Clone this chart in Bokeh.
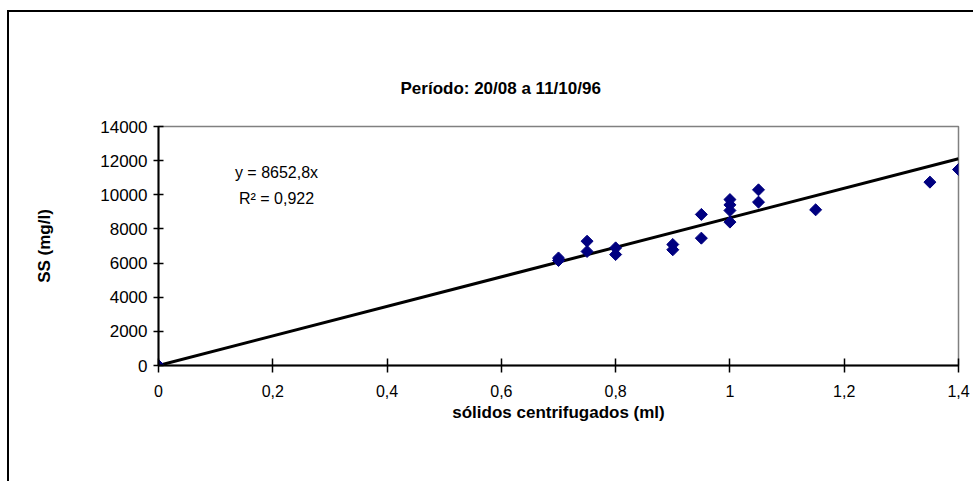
import math
from bokeh.plotting import figure
from bokeh.models import Range1d, FixedTicker, Label
from bokeh.embed import file_html
from bokeh.resources import INLINE

# ---- data ----
solidos = [0, 0.7, 0.7, 0.75, 0.75, 0.8, 0.8, 0.9, 0.9, 0.95, 0.95,
           1.0, 1.0, 1.0, 1.0, 1.05, 1.05, 1.15, 1.35, 1.4]
ss = [0, 6300, 6150, 7280, 6680, 6890, 6500, 7090, 6780, 8850, 7460,
      9720, 9410, 9080, 8400, 10290, 9570, 9120, 10740, 11480]
slope = 8652.8
r2_text = "0,922"
x_ticks = [0, 0.2, 0.4, 0.6, 0.8, 1.0, 1.2, 1.4]
x_tick_labels = ["0", "0,2", "0,4", "0,6", "0,8", "1", "1,2", "1,4"]
y_ticks = [0, 2000, 4000, 6000, 8000, 10000, 12000, 14000]
title_text = "Período: 20/08 a 11/10/96"
x_label = "sólidos centrifugados (ml)"
y_label = "SS (mg/l)"

FONT = "Liberation Sans"

p = figure(output_backend="svg", toolbar_location=None,
           frame_width=800, frame_height=239,
           min_border_left=149, min_border_right=15,
           min_border_top=114, min_border_bottom=116,
           x_range=Range1d(0, 1.4), y_range=Range1d(0, 14000))
p.styles = {"border-top": "2px solid black", "border-left": "2px solid black",
            "margin-left": "7px", "margin-top": "10px"}

p.title.text = title_text
p.title.align = "left"
p.title.offset = 242
p.title.standoff = 58
p.title.text_font = FONT
p.title.text_font_size = "17px"
p.title.text_font_style = "bold"
p.title.text_color = "black"

p.xgrid.visible = False
p.ygrid.visible = False
p.outline_line_color = "#808080"
p.outline_line_width = 1.5

# trend line
tx = [0, 1.4]
ty = [slope * v for v in tx]
p.line(tx, ty, line_color="black", line_width=3)

# points
p.scatter(solidos, ss, marker="square", angle=math.pi / 4, size=8.5,
          fill_color="#000080", line_color="#000080")

# axes
for ax in (p.xaxis[0], p.yaxis[0]):
    ax.axis_line_width = 2
    ax.axis_line_color = "black"
    ax.major_tick_line_width = 1.5
    ax.major_tick_line_color = "black"
    ax.minor_tick_line_color = None
    ax.major_label_text_font = FONT
    ax.major_label_text_color = "black"
    ax.axis_label_text_font = FONT
    ax.axis_label_text_font_size = "17px"
    ax.axis_label_text_font_style = "bold"
    ax.axis_label_text_color = "black"

p.xaxis.ticker = FixedTicker(ticks=x_ticks)
p.xaxis.major_label_overrides = dict(zip(x_ticks, x_tick_labels))
p.xaxis.major_label_text_font_size = "16px"
p.xaxis.major_tick_in = 7
p.xaxis.major_tick_out = 7
p.xaxis.major_label_standoff = 12
p.xaxis.axis_label = x_label
p.xaxis.axis_label_standoff = 3

p.yaxis.ticker = FixedTicker(ticks=y_ticks)
p.yaxis.major_label_text_font_size = "17px"
p.yaxis.major_tick_in = 5
p.yaxis.major_tick_out = 5
p.yaxis.major_label_standoff = 6
p.yaxis.axis_label = y_label
p.yaxis.axis_label_standoff = 43

# regression equation
p.add_layout(Label(x=0.2065, y=11306, text="y = %s" % str(slope).replace(".", ",") + "x",
                   text_font=FONT, text_font_size="16px",
                   text_align="center", text_baseline="middle", text_color="black"))
p.add_layout(Label(x=0.2065, y=9783, text="R\u00b2 = " + r2_text,
                   text_font=FONT, text_font_size="16px",
                   text_align="center", text_baseline="middle", text_color="black"))

open("out.html", "w").write(file_html(p, INLINE))
